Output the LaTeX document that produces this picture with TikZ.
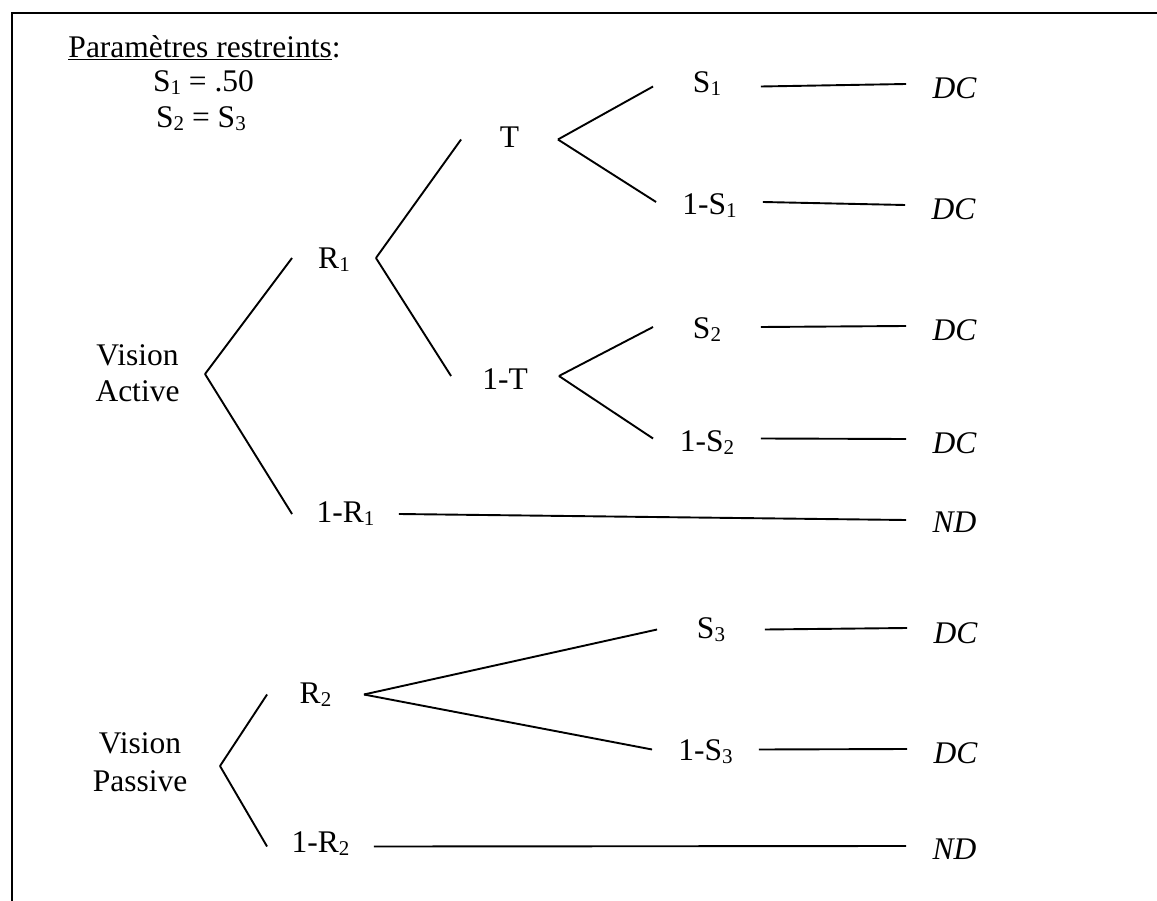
\documentclass[tikz,border=0pt]{standalone}
\usepackage{fontspec}
\setmainfont{Liberation Serif}
\newcommand{\sbs}[1]{\raisebox{-3pt}{\fontsize{21}{21}\selectfont #1}}
\newcommand{\ulin}[1]{\setbox0\hbox{#1}\makebox[0pt][l]{\rule[-2.5pt]{\wd0}{1.7pt}}\box0}
\begin{document}
\begin{tikzpicture}[x=1pt,y=-1pt, line width=1.9pt,
  txt/.style={anchor=base, inner sep=0pt, font=\fontsize{31.5}{36}\selectfont},
  lab/.style={txt, text height=#1, text depth=0pt},
  res/.style={lab=#1, font=\fontsize{31.5}{36}\selectfont\itshape, minimum width=95pt}]
\useasboundingbox (0,0) rectangle (1157,901);
% frame (only left and top edges visible)
\draw[line width=2.2pt] (12,901) -- (12,13) -- (1157,13);

% header
\node[txt] (h1) at (204.5,58) {\ulin{Paramètres restreints}:};
\node[txt] (h2) at (203.5,92) {S\sbs{1} = .50};
\node[txt] (h3) at (201,128) {S\sbs{2} = S\sbs{3}};

% roots
\node[txt] (va1) at (137.5,366) {Vision};
\node[txt] (va2) at (137.5,402) {Active};
\node[txt] (vp1) at (140,753) {Vision};
\node[txt] (vp2) at (140,791) {Passive};
\coordinate (vA) at (205,374);
\coordinate (vP) at (220,766);

% active branch
\node[lab=22pt, minimum width=82pt]  (R1)    at (334,269)   {R\sbs{1}};
\node[lab=16pt, minimum width=105pt] (oneR1) at (345.5,522) {1-R\sbs{1}};
\node[lab=17pt, minimum width=95pt]  (T)     at (509.5,148) {T};
\node[lab=26pt, minimum width=106pt] (oneT)  at (505,389)   {1-T};
\node[lab=13pt, minimum width=106pt] (S1)    at (707,93)    {S\sbs{1}};
\node[lab=26pt, minimum width=105pt] (oneS1) at (709.5,215) {1-S\sbs{1}};
\node[lab=22pt, minimum width=106pt] (S2)    at (707,338)   {S\sbs{2}};
\node[lab=25pt, minimum width=106pt] (oneS2) at (707,451)   {1-S\sbs{2}};

% passive branch
\node[lab=17pt, minimum width=95pt]  (R2)    at (315.5,703) {R\sbs{2}};
\node[lab=11pt, minimum width=105pt] (oneR2) at (320.5,852) {1-R\sbs{2}};
\node[lab=17pt, minimum width=106pt] (S3)    at (711,638)   {S\sbs{3}};
\node[lab=21pt, minimum width=105pt] (oneS3) at (705.5,760) {1-S\sbs{3}};

% outcomes
\node[res=30pt] (DC1) at (954.5,99)  {DC};
\node[res=30pt] (DC2) at (953.5,220) {DC};
\node[res=30pt] (DC3) at (954.5,341) {DC};
\node[res=28pt] (DC4) at (954.5,453) {DC};
\node[res=24pt] (ND1) at (954.5,532) {ND};
\node[res=30pt] (DC5) at (955.5,643) {DC};
\node[res=28pt] (DC6) at (955.5,763) {DC};
\node[res=26pt] (ND2) at (954.5,859) {ND};

% connectors
\draw (vA) -- (R1.west);
\draw (vA) -- (oneR1.west);
\draw (R1.east) -- (T.west);
\draw (R1.east) -- (oneT.west);
\draw (T.east) -- (S1.west);
\draw (T.east) -- (oneS1.west);
\draw (oneT.east) -- (S2.west);
\draw (oneT.east) -- (oneS2.west);
\draw (S1.east) -- (DC1.west);
\draw (oneS1.east) -- (DC2.west);
\draw (S2.east) -- (DC3.west);
\draw (oneS2.east) -- (DC4.west);
\draw (oneR1.east) -- (ND1.west);

\draw (vP) -- (R2.west);
\draw (vP) -- (oneR2.west);
\draw (R2.east) -- (S3.west);
\draw (R2.east) -- (oneS3.west);
\draw (S3.east) -- (DC5.west);
\draw (oneS3.east) -- (DC6.west);
\draw (oneR2.east) -- (ND2.west);
\end{tikzpicture}
\end{document}
